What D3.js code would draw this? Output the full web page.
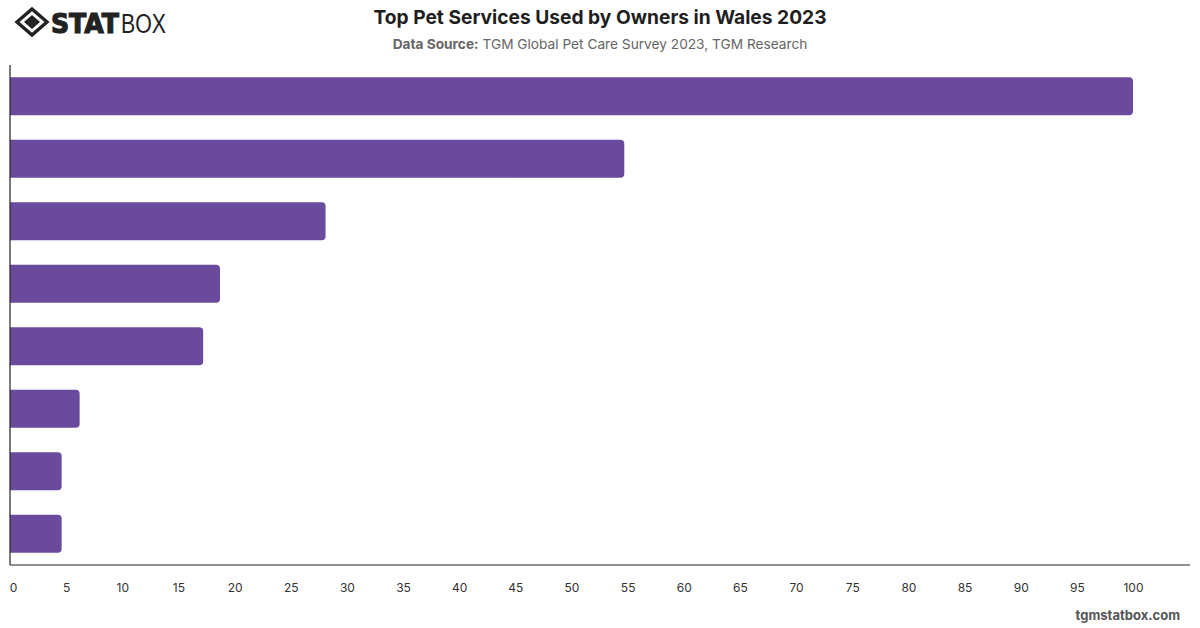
<!DOCTYPE html>
<html>
<head>
<meta charset="utf-8">
<script src="https://cdn.jsdelivr.net/npm/d3@7"></script>
<style>
  html, body { margin: 0; padding: 0; background: #fff; }
  svg { display: block; }
</style>
</head>
<body>
<svg id="chart" width="1200" height="628"></svg>
<script>
// Data
const categories = [
  "Veterinary services",
  "Pet grooming",
  "Boarding / kennels",
  "Pet insurance",
  "Pet training",
  "Dog walking",
  "Pet sitting",
  "Pet daycare"
];
const values = [100, 54.7, 28.1, 18.7, 17.2, 6.2, 4.6, 4.6];
const tickValues = [0,5,10,15,20,25,30,35,40,45,50,55,60,65,70,75,80,85,90,95,100];

const title = "Top Pet Services Used by Owners in Wales 2023";
const sourceLabel = "Data Source:";
const sourceText = " TGM Global Pet Care Survey 2023, TGM Research";
const footer = "tgmstatbox.com";

const W = 1200, H = 628;
const margin = {left: 10, right: 10, top: 65, bottom: 63};
const svg = d3.select("#chart");
const font = "Inter, 'Helvetica Neue', Arial, sans-serif";

const x = d3.scaleLinear().domain([0, 100]).range([margin.left, 1133]);
const y = d3.scaleBand().domain(categories).range([margin.top, H - margin.bottom]).paddingInner(0.39).paddingOuter(0.195);
const axisY = 565;

// Title
svg.append("text").attr("x", 600).attr("y", 24).attr("text-anchor", "middle")
  .attr("font-family", font).attr("font-weight", 700).attr("font-size", 19.2)
  .attr("fill", "#1f1f1f").text(title);
const sub = svg.append("text").attr("x", 600).attr("y", 49).attr("text-anchor", "middle")
  .attr("font-family", font).attr("font-size", 13.7).attr("fill", "#666");
sub.append("tspan").attr("font-weight", 700).text(sourceLabel);
sub.append("tspan").text(sourceText);

// Logo
const logo = svg.append("g").attr("transform", "translate(32,22)");
logo.append("path").attr("d", "M0,-13 L15,0 L0,13 L-15,0 Z").attr("fill", "none").attr("stroke", "#222").attr("stroke-width", 3.4);
logo.append("path").attr("d", "M0,-7 L8,0 L0,7 L-8,0 Z").attr("fill", "#222");
svg.append("text").attr("x", 51).attr("y", 33)
  .attr("font-family", "'DejaVu Sans', Arial, sans-serif").attr("font-weight", 900).attr("font-size", 27)
  .attr("fill", "#222").attr("stroke", "#222").attr("stroke-width", 1.2)
  .attr("textLength", 68).attr("lengthAdjust", "spacingAndGlyphs").text("STAT");
svg.append("text").attr("x", 121).attr("y", 33)
  .attr("font-family", "'Liberation Sans', Arial, sans-serif").attr("font-weight", 400).attr("font-size", 27)
  .attr("fill", "#222").attr("textLength", 45).attr("lengthAdjust", "spacingAndGlyphs").text("BOX");

// Bars (rounded right end)
const r = 4;
svg.append("g").selectAll("path").data(values).join("path")
  .attr("fill", "#6a4a9c")
  .attr("d", (d, i) => {
    const x0 = x(0), x1 = x(d), y0 = y(categories[i]), h = y.bandwidth();
    const rr = Math.min(r, (x1 - x0) / 2);
    return `M${x0},${y0} H${x1 - rr} Q${x1},${y0} ${x1},${y0 + rr} V${y0 + h - rr} Q${x1},${y0 + h} ${x1 - rr},${y0 + h} H${x0} Z`;
  });

// Axes
const xAxis = d3.axisBottom(x).tickValues(tickValues).tickSize(0).tickPadding(18).tickFormat(d3.format("d"));
const gx = svg.append("g").attr("transform", `translate(0,${axisY})`).call(xAxis);
gx.select(".domain").remove();
gx.selectAll("text").attr("font-family", font).attr("font-size", 12).attr("fill", "#333");
gx.selectAll(".tick").filter(d => d === 0).select("text").attr("dx", 3);

svg.append("line").attr("x1", margin.left).attr("x2", W - margin.right)
  .attr("y1", axisY).attr("y2", axisY)
  .attr("stroke", "#222").attr("stroke-width", 1.2);
const yAxis = d3.axisLeft(y).tickSize(0).tickFormat("");
const gy = svg.append("g").attr("transform", `translate(${margin.left},0)`).call(yAxis);
gy.select(".domain").attr("stroke", "#222").attr("stroke-width", 1.2)
  .attr("d", `M0,${margin.top}V${axisY}`);

// Footer
svg.append("text").attr("x", 1180).attr("y", 620).attr("text-anchor", "end")
  .attr("font-family", font).attr("font-weight", 700).attr("font-size", 13)
  .attr("fill", "#555").text(footer);
</script>
</body>
</html>
